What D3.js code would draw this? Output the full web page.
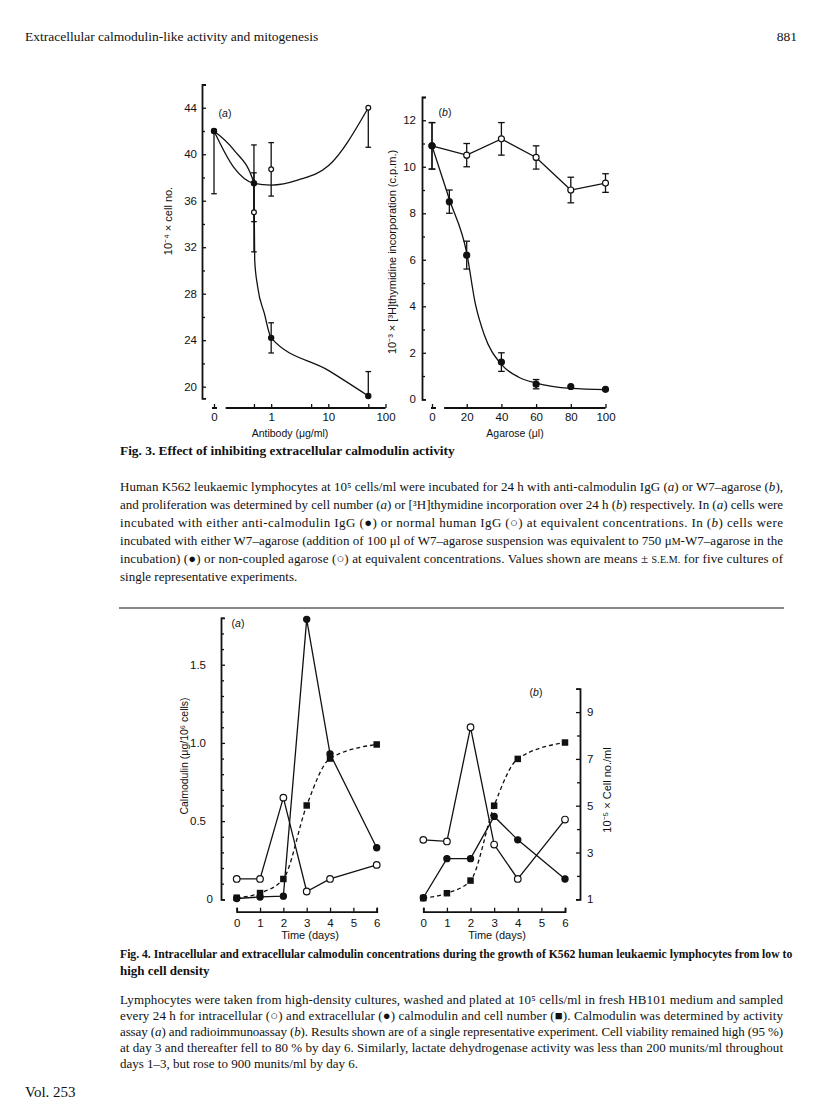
<!DOCTYPE html>
<html>
<head>
<meta charset="utf-8">
<script src="https://cdn.jsdelivr.net/npm/d3@7"></script>
<style>
  body { margin: 0; background: #fff; }
  svg text { fill: #111; }
  .tick text { font-family: "Liberation Sans", Arial, sans-serif; font-size: 11.5px; }
  .tick line { stroke: #111; stroke-width: 1.3; }
  .domain { stroke: #111; stroke-width: 1.8; fill: none; }
</style>
</head>
<body>
<svg id="page" width="816" height="1100"></svg>
<script>
// ---- Fig. 3a: cell number against antibody (0 sits on the broken part of the log axis)
const antibodyDose = [0, 0.5, 1, 50];
const antiIgG = [42, 37.5, 24.2, 19.2];
const antiIgGErrDown = [0, 3.3, 1.3, 0];
const antiIgGErrUp = [0, 3.3, 1.3, 2.1];
const normalIgG = [42, 35, 38.7, 44];
const normalIgGErrDown = [5.4, 3.4, 2.3, 3.4];
const normalIgGErrUp = [0, 3.4, 2.3, 0];
// hand-drawn fitted curves
const antiFitDose = [0, 0.22, 0.5, 0.515, 0.58, 0.76, 1, 10, 50];
const antiFit = [42, 40.4, 37.5, 30.9, 28.6, 26.3, 24.2, 21.4, 19.2];
const normalFitDose = [0, 0.22, 0.5, 1, 3, 10, 50];
const normalFit = [42, 38.9, 37.5, 37.35, 37.8, 39.0, 44];
const cellTicks = [20, 24, 28, 32, 36, 40, 44];
const cellMinor = [22, 26, 30, 34, 38, 42, 46];
const doseTicks = [0.1, 0.5, 1, 5, 10, 50, 100];
const doseTickLabels = ["0", "", "1", "", "10", "", "100"];

// ---- Fig. 3b: thymidine incorporation against agarose
const agarose = [0, 20, 40, 60, 80, 100];
const plainAgarose = [10.9, 10.5, 11.2, 10.4, 9.0, 9.3];
const plainAgaroseErr = [1.0, 0.5, 0.7, 0.5, 0.55, 0.4];
const w7Dose = [0, 10, 20, 40, 60, 80, 100];
const w7Agarose = [10.9, 8.5, 6.2, 1.6, 0.65, 0.55, 0.43];
const w7AgaroseErr = [1.0, 0.5, 0.6, 0.4, 0.2, 0, 0];
const w7FitDose = [0, 10, 20, 25, 30, 40, 50, 60, 80, 100];
const w7Fit = [10.9, 8.6, 6.3, 4.1, 2.8, 1.5, 0.95, 0.7, 0.47, 0.42];
const cpmTicks = [0, 2, 4, 6, 8, 10, 12];
const cpmMinor = [1, 3, 5, 7, 9, 11, 13];
const agaroseTicks = [0, 20, 40, 60, 80, 100];

// ---- Fig. 4: calmodulin and cell number against time
const days = [0, 1, 2, 3, 4, 6];
const intraA = [0.13, 0.13, 0.65, 0.05, 0.13, 0.22];
const extraA = [0.005, 0.015, 0.02, 1.79, 0.93, 0.33];
const cellsA = [0.01, 0.04, 0.13, 0.60, 0.90, 0.99];
const intraB = [0.38, 0.37, 1.10, 0.35, 0.13, 0.51];
const extraB = [0.01, 0.26, 0.26, 0.53, 0.38, 0.13];
const cellsB = [1.05, 1.26, 1.8, 5.0, 7.0, 7.7];
const calTicks = [0, 0.5, 1.0, 1.5];
const calMinor = [0.1, 0.2, 0.3, 0.4, 0.6, 0.7, 0.8, 0.9, 1.1, 1.2, 1.3, 1.4, 1.6, 1.7, 1.8];
const dayTicks = [0, 1, 2, 3, 4, 5, 6];
const cellNoTicks = [1, 3, 5, 7, 9];
const cellNoMinor = [2, 4, 6, 8, 10];

const fig3Title = "Fig. 3. Effect of inhibiting extracellular calmodulin activity";
const fig3Text = [
  "Human K562 leukaemic lymphocytes at 10⁵ cells/ml were incubated for 24 h with anti-calmodulin IgG (_a_) or W7–agarose (_b_),",
  "and proliferation was determined by cell number (_a_) or [³H]thymidine incorporation over 24 h (_b_) respectively. In (_a_) cells were",
  "incubated with either anti-calmodulin IgG (●) or normal human IgG (○) at equivalent concentrations. In (_b_) cells were",
  "incubated with either W7–agarose (addition of 100 μl of W7–agarose suspension was equivalent to 750 μ~M~-W7–agarose in the",
  "incubation) (●) or non-coupled agarose (○) at equivalent concentrations. Values shown are means ± ~S.E.M.~ for five cultures of",
  "single representative experiments."
];
const fig4Title = [
  "Fig. 4. Intracellular and extracellular calmodulin concentrations during the growth of K562 human leukaemic lymphocytes from low to",
  "high cell density"
];
const fig4Text = [
  "Lymphocytes were taken from high-density cultures, washed and plated at 10⁵ cells/ml in fresh HB101 medium and sampled",
  "every 24 h for intracellular (○) and extracellular (●) calmodulin and cell number (■). Calmodulin was determined by activity",
  "assay (_a_) and radioimmunoassay (_b_). Results shown are of a single representative experiment. Cell viability remained high (95 %)",
  "at day 3 and thereafter fell to 80 % by day 6. Similarly, lactate dehydrogenase activity was less than 200 munits/ml throughout",
  "days 1–3, but rose to 900 munits/ml by day 6."
];

const sans = '"Liberation Sans", Arial, Helvetica, sans-serif';
const serif = '"Liberation Serif", "Times New Roman", serif';
const svg = d3.select("#page");

// running head
svg.append("text").attr("x", 25).attr("y", 41)
  .style("font-family", serif).style("font-size", "13.5px")
  .text("Extracellular calmodulin-like activity and mitogenesis");
svg.append("text").attr("x", 797).attr("y", 41).attr("text-anchor", "end")
  .style("font-family", serif).style("font-size", "13.5px").text("881");

// ---------- helpers
function label(x, y, txt, opts = {}) {
  const t = svg.append("text")
    .attr("transform", `translate(${x},${y})` + (opts.rot ? ` rotate(${opts.rot})` : ""))
    .attr("text-anchor", opts.anchor || "middle").attr("dy", "0.35em")
    .style("font-family", sans).style("font-size", (opts.size || 10.5) + "px");
  txt.split(/(_[^_]+_)/).forEach(s => {
    if (!s) return;
    const it = s[0] === "_";
    t.append("tspan").style("font-style", it ? "italic" : null).text(it ? s.slice(1, -1) : s);
  });
  return t;
}

function errorBars(g, xs, ys, down, up, x, y, cap) {
  xs.forEach((d, i) => {
    const lo = ys[i] - down[i], hi = ys[i] + up[i];
    if (lo === hi) return;
    g.append("line").attr("x1", x(d)).attr("x2", x(d)).attr("y1", y(lo)).attr("y2", y(hi))
      .attr("stroke", "#111").attr("stroke-width", 1.3);
    [down[i] ? lo : null, up[i] ? hi : null].forEach(v => {
      if (v === null) return;
      g.append("line").attr("x1", x(d) - cap).attr("x2", x(d) + cap).attr("y1", y(v)).attr("y2", y(v))
        .attr("stroke", "#111").attr("stroke-width", 1.3);
    });
  });
}

function dots(g, xs, ys, x, y, r, open) {
  g.selectAll(null).data(xs).enter().append("circle")
    .attr("cx", d => x(d)).attr("cy", (d, i) => y(ys[i])).attr("r", r)
    .attr("fill", open ? "#fff" : "#111").attr("stroke", "#111").attr("stroke-width", 1.2);
}

function squares(g, xs, ys, x, y, s) {
  g.selectAll(null).data(xs).enter().append("rect")
    .attr("x", d => x(d) - s / 2).attr("y", (d, i) => y(ys[i]) - s / 2)
    .attr("width", s).attr("height", s).attr("fill", "#111");
}

function path(g, xs, ys, x, y, curve, dash) {
  const line = d3.line().x(d => x(d[0])).y(d => y(d[1])).curve(curve);
  g.append("path").attr("d", line(xs.map((d, i) => [d, ys[i]])))
    .attr("fill", "none").attr("stroke", "#111").attr("stroke-width", 1.3)
    .attr("stroke-dasharray", dash || null);
}

function minorAxis(axisFn, scale, vals, pos, size) {
  const g = svg.append("g").attr("transform", pos)
    .call(axisFn(scale).tickValues(vals).tickSize(size).tickFormat(""));
  g.select(".domain").remove();
}

// ================= Fig. 3a
const y3a = d3.scaleLinear().domain([19, 46]).range([398.3, 84.5]);
const x3a = d3.scaleLog().domain([0.1, 100]).range([214, 385.5]);
const xa = d => x3a(d === 0 ? 0.1 : d);

svg.append("g").attr("transform", "translate(202,0)")
  .call(d3.axisLeft(y3a).tickValues(cellTicks).tickSizeInner(-4).tickSizeOuter(-4).tickPadding(5));
minorAxis(d3.axisLeft, y3a, cellMinor, "translate(202,0)", -3);

const gx3a = svg.append("g").attr("transform", "translate(0,408)")
  .call(d3.axisBottom(x3a).tickValues(doseTicks).tickSizeInner(-4).tickPadding(5)
    .tickFormat((d, i) => doseTickLabels[i]));
gx3a.select(".domain").remove();
gx3a.append("path").attr("class", "domain")
  .attr("d", `M${x3a(0.1) - 2},0H${x3a(0.1) + 3}M${x3a(0.16)},0H${x3a(100)}`);

const p3a = svg.append("g");
path(p3a, antiFitDose, antiFit, xa, y3a, d3.curveMonotoneX);
path(p3a, normalFitDose, normalFit, xa, y3a, d3.curveMonotoneX);
errorBars(p3a, antibodyDose, antiIgG, antiIgGErrDown, antiIgGErrUp, xa, y3a, 2.8);
errorBars(p3a, antibodyDose, normalIgG, normalIgGErrDown, normalIgGErrUp, xa, y3a, 2.8);
dots(p3a, antibodyDose, normalIgG, xa, y3a, 2.4, true);
dots(p3a, antibodyDose, antiIgG, xa, y3a, 2.6, false);

label(168, 221, "10⁻⁴ × cell no.", { rot: -90, size: 11 });
label(225, 113, "(_a_)");
label(290, 433, "Antibody (μg/ml)");

// ================= Fig. 3b
const y3b = d3.scaleLinear().domain([0, 13]).range([399.3, 97]);
const x3b = d3.scaleLinear().domain([0, 100]).range([432, 605.5]);

svg.append("g").attr("transform", "translate(422,0)")
  .call(d3.axisLeft(y3b).tickValues(cpmTicks).tickSizeInner(-4).tickSizeOuter(-4).tickPadding(6));
minorAxis(d3.axisLeft, y3b, cpmMinor, "translate(422,0)", -3);

const gx3b = svg.append("g").attr("transform", "translate(0,408)")
  .call(d3.axisBottom(x3b).tickValues(agaroseTicks).tickSizeInner(-4).tickPadding(5));
gx3b.select(".domain").remove();
gx3b.append("path").attr("class", "domain")
  .attr("d", `M${x3b(0) - 1},0H${x3b(0) + 4}M${x3b(7)},0H${x3b(100)}`);

const p3b = svg.append("g");
path(p3b, agarose, plainAgarose, x3b, y3b, d3.curveLinear);
path(p3b, w7FitDose, w7Fit, x3b, y3b, d3.curveMonotoneX);
errorBars(p3b, agarose, plainAgarose, plainAgaroseErr, plainAgaroseErr, x3b, y3b, 3.3);
errorBars(p3b, w7Dose, w7Agarose, w7AgaroseErr, w7AgaroseErr, x3b, y3b, 3.3);
dots(p3b, agarose, plainAgarose, x3b, y3b, 3, true);
dots(p3b, w7Dose, w7Agarose, x3b, y3b, 3, false);

label(392, 252, "10⁻³ × [³H]thymidine incorporation (c.p.m.)", { rot: -90, size: 11 });
label(445, 112, "(_b_)");
label(515, 433, "Agarose (μl)");

// ---- captions: justified lines; bold titles squeezed to the condensed width of the print
function paragraph(lines, x, y0, lh, width, size, bold) {
  lines.forEach((ln, i) => {
    const t = svg.append("text").attr("x", x).attr("y", y0 + i * lh)
      .style("font-family", serif).style("font-size", size + "px")
      .style("font-weight", bold ? "bold" : null);
    ln.split(/(_[^_]+_|~[^~]+~)/).forEach(s => {
      if (!s) return;
      const it = s[0] === "_", sc = s[0] === "~";
      t.append("tspan")
        .style("font-style", it ? "italic" : null)
        .style("font-size", sc ? (size - 3) + "px" : null)
        .text(it || sc ? s.slice(1, -1) : s);
    });
    const w = Array.isArray(width) ? width[i] : (i < lines.length - 1 ? width : null);
    if (!w) return;
    if (bold) {
      const k = w / t.node().getComputedTextLength();
      t.attr("x", 0).attr("y", 0)
        .attr("transform", `translate(${x},${y0 + i * lh}) scale(${k},1)`);
    } else {
      t.attr("textLength", w).attr("lengthAdjust", "spacing");
    }
  });
}

paragraph([fig3Title], 120, 455, 18, [335], 13, true);
paragraph(fig3Text, 120, 491, 18, 663, 13, false);

svg.append("line").attr("x1", 119).attr("x2", 784).attr("y1", 608).attr("y2", 608)
  .attr("stroke", "#111").attr("stroke-width", 1);

// ================= Fig. 4a
const yCal = d3.scaleLinear().domain([0, 1.8]).range([899.3, 617.8]);
const x4a = d3.scaleLinear().domain([0, 6]).range([236.7, 376.7]);

const gy4a = svg.append("g").attr("transform", "translate(221,0)")
  .call(d3.axisLeft(yCal).tickValues(calTicks).tickSizeInner(-4).tickSizeOuter(-4).tickPadding(15)
    .tickFormat(d => d === 0 ? "0" : d.toFixed(1)));
gy4a.selectAll(".tick text").filter(d => d === 0).attr("x", -8);
minorAxis(d3.axisLeft, yCal, calMinor, "translate(221,0)", -3);

svg.append("g").attr("transform", "translate(0,911.7)")
  .call(d3.axisBottom(x4a).tickValues(dayTicks).tickFormat(d3.format("d"))
    .tickSizeInner(-4).tickSizeOuter(-4).tickPadding(7));

const p4a = svg.append("g");
path(p4a, days, cellsA, x4a, yCal, d3.curveMonotoneX, "4,3");
path(p4a, days, intraA, x4a, yCal, d3.curveLinear);
path(p4a, days, extraA, x4a, yCal, d3.curveLinear);
squares(p4a, days, cellsA, x4a, yCal, 6.5);
dots(p4a, days, intraA, x4a, yCal, 3.3, true);
dots(p4a, days, extraA, x4a, yCal, 3.1, false);

label(184, 756, "Calmodulin (μg/10⁶ cells)", { rot: -90 });
label(238, 623, "(_a_)");
label(310, 935, "Time (days)", { size: 11 });

// ================= Fig. 4b
const x4b = d3.scaleLinear().domain([0, 6]).range([423.3, 565]);
const yCells = d3.scaleLinear().domain([1, 10]).range([899.3, 688.7]);

svg.append("g").attr("transform", "translate(580,0)")
  .call(d3.axisRight(yCells).tickValues(cellNoTicks).tickSizeInner(-4).tickSizeOuter(-4).tickPadding(7));
minorAxis(d3.axisRight, yCells, cellNoMinor, "translate(580,0)", -3);

svg.append("g").attr("transform", "translate(0,911.7)")
  .call(d3.axisBottom(x4b).tickValues(dayTicks).tickFormat(d3.format("d"))
    .tickSizeInner(-4).tickSizeOuter(-4).tickPadding(7));

const p4b = svg.append("g");
path(p4b, days, cellsB, x4b, yCells, d3.curveMonotoneX, "4,3");
path(p4b, days, intraB, x4b, yCal, d3.curveLinear);
path(p4b, days, extraB, x4b, yCal, d3.curveLinear);
dots(p4b, days, intraB, x4b, yCal, 3.3, true);
dots(p4b, days, extraB, x4b, yCal, 3.1, false);
squares(p4b, days, cellsB, x4b, yCells, 6.5);

label(607, 790, "10⁻⁵ × Cell no./ml", { rot: -90, size: 11 });
label(536, 692, "(_b_)");
label(497, 935, "Time (days)", { size: 11 });

// ---- Fig. 4 caption
paragraph(fig4Title, 120, 958, 16.5, [673, null], 13, true);
paragraph(fig4Text, 120, 1004, 16, 663, 13, false);

svg.append("text").attr("x", 25).attr("y", 1097)
  .style("font-family", serif).style("font-size", "15px").text("Vol. 253");
</script>
</body>
</html>
